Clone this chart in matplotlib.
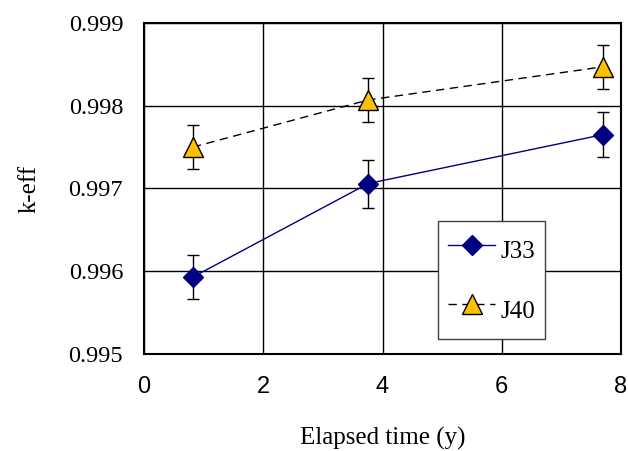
import matplotlib.pyplot as plt

# data
time_j33 = [0.82, 3.76, 7.69]
keff_j33 = [0.99593, 0.99706, 0.99765]
err_j33 = [0.00027, 0.00029, 0.00027]

time_j40 = [0.82, 3.76, 7.69]
keff_j40 = [0.99750, 0.99807, 0.99847]
err_j40 = [0.00027, 0.00027, 0.00027]

xticks = [0, 2, 4, 6, 8]
yticks = [0.995, 0.996, 0.997, 0.998, 0.999]

serif = "Liberation Serif"
sans = "Liberation Sans"

fig = plt.figure(figsize=(6.28, 4.51), dpi=100)
ax = fig.add_axes([0.2293, 0.2151, 0.7596, 0.7339])

ax.errorbar(time_j33, keff_j33, yerr=err_j33, fmt="none", ecolor="black",
            elinewidth=1, capsize=4.3, capthick=1, zorder=3)
ax.errorbar(time_j40, keff_j40, yerr=err_j40, fmt="none", ecolor="black",
            elinewidth=1, capsize=4.3, capthick=1, zorder=3)

ax.plot(time_j33, keff_j33, color="#000080", lw=1, marker="D", ms=10,
        mfc="#000080", mec="#000080", label="J33", zorder=4)
ax.plot(time_j40, keff_j40, color="black", lw=1, ls=(0, (6, 4)), marker="^",
        ms=14, mfc="#FFC000", mec="black", mew=1, label="J40", zorder=4)

ax.set_xlim(0, 8)
ax.set_ylim(0.995, 0.999)
ax.set_xticks(xticks)
ax.set_yticks(yticks)
ax.set_xticklabels([str(v) for v in xticks], fontfamily=sans, fontsize=17)
ax.set_yticklabels(["%.3f" % v for v in yticks], fontfamily=serif, fontsize=17.5)
ax.tick_params(length=0)
ax.tick_params(axis="x", pad=15.5)
ax.tick_params(axis="y", pad=15)
ax.grid(True, color="black", lw=1)
ax.set_axisbelow(True)
for s in ax.spines.values():
    s.set_linewidth(1.5)

ax.set_xlabel("Elapsed time (y)", fontfamily=serif, fontsize=18, labelpad=21.5)
ax.set_ylabel("k-eff", fontfamily=serif, fontsize=18, labelpad=20)

leg = ax.legend(loc="lower left", bbox_to_anchor=(0.616, 0.044),
                prop={"family": serif, "size": 18}, frameon=True, fancybox=False,
                edgecolor="#404040", framealpha=1, labelspacing=0.85,
                borderpad=0.4, handlelength=1.9, handleheight=2.0,
                handletextpad=0.2, borderaxespad=0)
leg.get_frame().set_linewidth(1)

fig.savefig("out.png", dpi=100)
